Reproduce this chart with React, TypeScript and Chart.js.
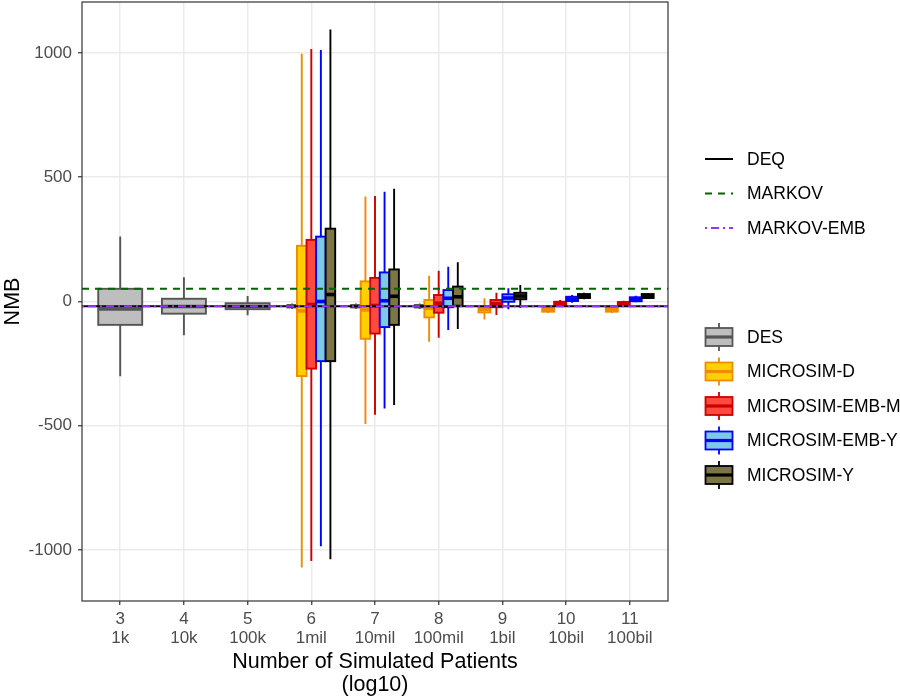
import React, { useEffect, useRef } from "react";
import { Chart, registerables } from "chart.js";

Chart.register(...registerables);

// ---------- data ----------
const categories = [3, 4, 5, 6, 7, 8, 9, 10, 11];
const sizeLabels = ["1k", "10k", "100k", "1mil", "10mil", "100mil", "1bil", "10bil", "100bil"];
const yTickValues = [-1000, -500, 0, 500, 1000];
const xMin = 2.4;
const xMax = 11.6;
const yMin = -1205;
const yMax = 1205;

type Stat = [number, number, number, number, number] | null; // [min, q1, median, q3, max]

const desStats: Stat[] = [
  [-301, -94, -30, 51, 262],
  [-136, -49, -20, 11, 98],
  [-55, -31, -20, -7, 22],
  [-30, -24, -19, -14, -8],
  [-30, -24, -19, -14, -8],
  [-30, -24, -19, -14, -8],
  null,
  null,
  null,
];
const microDStats: Stat[] = [
  null,
  null,
  null,
  [-1070, -300, -38, 224, 997],
  [-493, -150, -34, 81, 422],
  [-162, -64, -27, 6, 104],
  [-72, -44, -32, -21, 13],
  [-46, -41, -33, -25, -21],
  [-46, -41, -33, -26, -22],
];
const microEmbMStats: Stat[] = [
  null,
  null,
  null,
  [-1044, -270, -12, 248, 1016],
  [-456, -129, -16, 95, 424],
  [-146, -45, -7, 26, 124],
  [-54, -23, -9, 6, 35],
  [-18, -14, -7, -1, 6],
  [-19, -16, -9, -2, 3],
];
const microEmbYStats: Stat[] = [
  null,
  null,
  null,
  [-985, -240, 0, 261, 1012],
  [-431, -103, 3, 117, 442],
  [-115, -23, 13, 46, 140],
  [-31, -1, 14, 29, 53],
  [-5, 2, 10, 19, 26],
  [-3, 1, 9, 17, 23],
];
const microYStats: Stat[] = [
  null,
  null,
  null,
  [-1037, -240, 28, 293, 1094],
  [-416, -94, 21, 129, 454],
  [-111, -17, 19, 60, 158],
  [-25, 9, 22, 35, 66],
  [9, 14, 22, 30, 35],
  [11, 14, 22, 30, 33],
];

const deqValue = -19;
const markovValue = 51;
const markovEmbValue = -19;

const boxSeries = [
  { name: "DES", stats: desStats, fill: "#BEBEBE", stroke: "#555555" },
  { name: "MICROSIM-D", stats: microDStats, fill: "#FFD000", stroke: "#EE8C00" },
  { name: "MICROSIM-EMB-M", stats: microEmbMStats, fill: "#FF4A3D", stroke: "#CC0000" },
  { name: "MICROSIM-EMB-Y", stats: microEmbYStats, fill: "#7EC8E8", stroke: "#0000FF" },
  { name: "MICROSIM-Y", stats: microYStats, fill: "#7B7645", stroke: "#000000" },
];

const lineSeries = [
  { name: "DEQ", value: deqValue, color: "#000000", dash: [] as number[], order: 2 },
  { name: "MARKOV", value: markovValue, color: "#006400", dash: [7, 6], order: 1 },
  { name: "MARKOV-EMB", value: markovEmbValue, color: "#9B30FF", dash: [2, 4, 8, 4], order: 0 },
];

const FONT = "'Liberation Sans', Arial, Helvetica, sans-serif";

// ---------- plugins ----------
const boxPlugin = {
  id: "boxplots",
  beforeDatasetsDraw(chart: any) {
    const { ctx, chartArea, scales } = chart;
    const x = scales.x;
    const y = scales.y;
    ctx.save();
    ctx.beginPath();
    ctx.rect(chartArea.left, chartArea.top, chartArea.right - chartArea.left, chartArea.bottom - chartArea.top);
    ctx.clip();
    ctx.lineCap = "butt";
    ctx.lineJoin = "miter";
    categories.forEach((cat, ci) => {
      const present = boxSeries.filter((s) => s.stats[ci]);
      const n = present.length;
      const slot = n === 1 ? 0.69 : 0.75 / n;
      present.forEach((s, k) => {
        const st = s.stats[ci] as number[];
        const c = n === 1 ? cat : cat - 0.375 + slot * (k + 0.5);
        const cx = x.getPixelForValue(c);
        const x0 = x.getPixelForValue(c - slot / 2);
        const x1 = x.getPixelForValue(c + slot / 2);
        const [mn, q1, md, q3, mx] = st.map((v) => y.getPixelForValue(v));
        ctx.strokeStyle = s.stroke;
        ctx.lineWidth = 1.9;
        ctx.beginPath();
        ctx.moveTo(cx, q3);
        ctx.lineTo(cx, mx);
        ctx.moveTo(cx, q1);
        ctx.lineTo(cx, mn);
        ctx.stroke();
        ctx.fillStyle = s.fill;
        ctx.fillRect(x0, q3, x1 - x0, q1 - q3);
        ctx.strokeRect(x0, q3, x1 - x0, q1 - q3);
        ctx.lineWidth = 3.6;
        ctx.beginPath();
        ctx.moveTo(x0, md);
        ctx.lineTo(x1, md);
        ctx.stroke();
      });
    });
    ctx.restore();
  },
  afterDatasetsDraw(chart: any) {
    const { ctx, chartArea } = chart;
    ctx.save();
    ctx.strokeStyle = "#333333";
    ctx.lineWidth = 1.2;
    ctx.strokeRect(chartArea.left, chartArea.top, chartArea.right - chartArea.left, chartArea.bottom - chartArea.top);
    ctx.restore();
  },
  afterDraw(chart: any) {
    const { ctx } = chart;
    ctx.save();
    ctx.font = `17.5px ${FONT}`;
    ctx.textBaseline = "middle";
    ctx.textAlign = "left";
    const keyL = 705;
    const keyR = 733;
    const textX = 747;
    // line legend
    const lineYs = [159, 193.5, 228];
    lineSeries.forEach((ls, i) => {
      const yy = lineYs[i];
      ctx.strokeStyle = ls.color;
      ctx.lineWidth = 2;
      ctx.setLineDash(ls.dash);
      ctx.beginPath();
      ctx.moveTo(keyL, yy);
      ctx.lineTo(keyR, yy);
      ctx.stroke();
      ctx.setLineDash([]);
      ctx.fillStyle = "#000000";
      ctx.fillText(ls.name, textX, yy + 1);
    });
    // box legend
    const boxY0 = 337;
    const boxStep = 34.5;
    boxSeries.forEach((bs, i) => {
      const cy = boxY0 + i * boxStep;
      const cx = (keyL + keyR) / 2;
      ctx.strokeStyle = bs.stroke;
      ctx.lineWidth = 1.8;
      ctx.beginPath();
      ctx.moveTo(cx, cy - 14);
      ctx.lineTo(cx, cy - 9);
      ctx.moveTo(cx, cy + 9);
      ctx.lineTo(cx, cy + 14);
      ctx.stroke();
      ctx.fillStyle = bs.fill;
      ctx.fillRect(keyL + 0.5, cy - 9, keyR - keyL - 1, 18);
      ctx.strokeRect(keyL + 0.5, cy - 9, keyR - keyL - 1, 18);
      ctx.lineWidth = 3.2;
      ctx.beginPath();
      ctx.moveTo(keyL + 0.5, cy);
      ctx.lineTo(keyR - 0.5, cy);
      ctx.stroke();
      ctx.fillStyle = "#000000";
      ctx.fillText(bs.name, textX, cy + 1);
    });
    ctx.restore();
  },
};

export default function App() {
  const canvasRef = useRef<HTMLCanvasElement | null>(null);

  useEffect(() => {
    if (!canvasRef.current) return;
    Chart.defaults.font.family = FONT;
    const gridOpts = {
      color: "#EBEBEB",
      lineWidth: 1.5,
      drawTicks: true,
      tickLength: 4,
      tickColor: "#333333",
      tickWidth: 1.2,
    };
    const chart = new Chart(canvasRef.current, {
      type: "line",
      data: {
        datasets: lineSeries.map((ls) => ({
          label: ls.name,
          data: [
            { x: xMin, y: ls.value },
            { x: xMax, y: ls.value },
          ],
          borderColor: ls.color,
          borderWidth: 2,
          borderDash: ls.dash,
          pointRadius: 0,
          fill: false,
          order: ls.order,
        })),
      },
      options: {
        responsive: false,
        animation: false,
        devicePixelRatio: 1,
        layout: { padding: { left: 0, right: 232, top: 2, bottom: 0 } },
        plugins: { legend: { display: false }, tooltip: { enabled: false } },
        scales: {
          x: {
            type: "linear",
            min: xMin,
            max: xMax,
            afterBuildTicks: (s: any) => {
              s.ticks = categories.map((v) => ({ value: v }));
            },
            afterFit: (s: any) => {
              s.height = 96;
              s.paddingLeft = 0;
              s.paddingRight = 0;
            },
            grid: gridOpts,
            border: { display: false },
            ticks: {
              autoSkip: false,
              maxRotation: 0,
              minRotation: 0,
              padding: 5,
              color: "#4D4D4D",
              font: { size: 17, lineHeight: 1.12 },
              callback: (v: any) => {
                const i = categories.indexOf(Number(v));
                return [String(v), sizeLabels[i]];
              },
            },
            title: {
              display: true,
              text: ["Number of Simulated Patients", "(log10)"],
              color: "#000000",
              font: { size: 21.5, lineHeight: 1.08 },
              padding: { top: 0, bottom: 0 },
            },
          },
          y: {
            type: "linear",
            min: yMin,
            max: yMax,
            afterBuildTicks: (s: any) => {
              s.ticks = yTickValues.map((v) => ({ value: v }));
            },
            afterFit: (s: any) => {
              s.width = 82;
              s.paddingTop = 0;
              s.paddingBottom = 0;
            },
            grid: gridOpts,
            border: { display: false },
            ticks: {
              padding: 6,
              color: "#4D4D4D",
              font: { size: 17 },
              callback: (v: any) => String(v),
            },
            title: {
              display: true,
              text: "NMB",
              color: "#000000",
              font: { size: 21.5 },
              padding: 0,
            },
          },
        },
      } as any,
      plugins: [boxPlugin],
    });
    return () => chart.destroy();
  }, []);

  return (
    <div style={{ position: "absolute", left: 0, top: 0, width: 900, height: 697, background: "#FFFFFF" }}>
      <canvas ref={canvasRef} width={900} height={697} style={{ display: "block" }} />
    </div>
  );
}
